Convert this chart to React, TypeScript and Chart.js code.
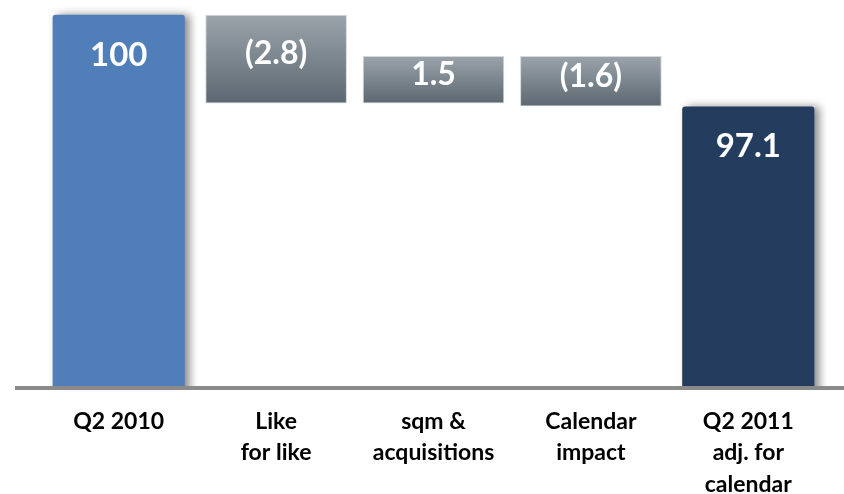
import React, { useEffect, useRef } from "react";
import { Chart, registerables } from "chart.js";

Chart.register(...registerables);

// Category labels (multi-line)
const categories: string[][] = [
  ["Q2 2010"],
  ["Like", "for like"],
  ["sqm &", "acquisitions"],
  ["Calendar", "impact"],
  ["Q2 2011", "adj. for", "calendar"],
];

// Opening and closing totals, and the steps between them
const openingValue = 100;
const stepValues = [-2.8, 1.5, -1.6];
const closingValue = 97.1;

// Visible value range of the hidden y axis
const axisMin = 88.2;
const axisMax = 100.47;

const FONT = "Lato, 'Open Sans', 'DejaVu Sans', sans-serif";
const BLUE = "#4f7eb9";
const NAVY = "#243c5e";

function buildData() {
  const totals: (number | null)[] = [openingValue, null, null, null, closingValue];
  const steps: ([number, number] | null)[] = [null];
  let running = openingValue;
  for (const s of stepValues) {
    const next = Math.round((running + s) * 10) / 10;
    steps.push([running, next]);
    running = next;
  }
  steps.push(null);
  return { totals, steps };
}

function formatStep(v: number) {
  return v < 0 ? `(${Math.abs(v).toFixed(1)})` : v.toFixed(1);
}

// Soft drop shadow behind the total bars
const shadowPlugin = {
  id: "totalShadow",
  beforeDatasetDraw(chart: any, args: any) {
    if (args.index !== 0) return;
    const ctx = chart.ctx;
    ctx.save();
    ctx.shadowColor = "rgba(0,0,0,0.45)";
    ctx.shadowBlur = 8;
    ctx.shadowOffsetX = 5;
    ctx.shadowOffsetY = 0;
  },
  afterDatasetDraw(chart: any, args: any) {
    if (args.index !== 0) return;
    chart.ctx.restore();
  },
};

// Grey base line under all bars
const baselinePlugin = {
  id: "baseline",
  afterDatasetsDraw(chart: any) {
    const ctx = chart.ctx;
    const y = chart.scales.y.getPixelForValue(axisMin);
    ctx.save();
    ctx.strokeStyle = "#8a8a8a";
    ctx.lineWidth = 4;
    ctx.beginPath();
    ctx.moveTo(15, y);
    ctx.lineTo(chart.width, y);
    ctx.stroke();
    ctx.restore();
  },
};

// White value labels inside the bars
const valueLabelPlugin = {
  id: "valueLabels",
  afterDatasetsDraw(chart: any) {
    const ctx = chart.ctx;
    ctx.save();
    ctx.fillStyle = "#ffffff";
    ctx.textAlign = "center";
    ctx.textBaseline = "middle";
    chart.data.datasets.forEach((ds: any, di: number) => {
      const meta = chart.getDatasetMeta(di);
      meta.data.forEach((bar: any, i: number) => {
        const raw = ds.data[i];
        if (raw === null || raw === undefined) return;
        const { x, y, base } = bar.getProps(["x", "y", "base"], true);
        if (di === 0) {
          ctx.font = `bold 33px ${FONT}`;
          ctx.fillText(String(raw), x, Math.min(y, base) + 40);
        } else {
          const top = Math.min(y, base);
          const h = Math.abs(base - y);
          ctx.font = `bold 32px ${FONT}`;
          const delta = Math.round((raw[1] - raw[0]) * 10) / 10;
          ctx.fillText(formatStep(delta), x, top + h / 2 - 5);
        }
      });
    });
    ctx.restore();
  },
};

function stepGradient(context: any) {
  const chart = context.chart;
  const raw = context.raw;
  if (!chart.chartArea || !raw) return "#7d8891";
  const yScale = chart.scales.y;
  const top = yScale.getPixelForValue(Math.max(raw[0], raw[1]));
  const bottom = yScale.getPixelForValue(Math.min(raw[0], raw[1]));
  const g = chart.ctx.createLinearGradient(0, top, 0, bottom);
  g.addColorStop(0, "#9ba4ab");
  g.addColorStop(1, "#5c6771");
  return g;
}

export default function App() {
  const canvasRef = useRef<HTMLCanvasElement | null>(null);

  useEffect(() => {
    if (!canvasRef.current) return;
    const { totals, steps } = buildData();
    const chart = new Chart(canvasRef.current, {
      type: "bar",
      data: {
        labels: categories as any,
        datasets: [
          {
            data: totals as any,
            backgroundColor: [BLUE, BLUE, BLUE, BLUE, NAVY],
            borderRadius: 3,
            borderSkipped: false,
            barPercentage: 0.84,
            categoryPercentage: 1,
            grouped: false,
          } as any,
          {
            data: steps as any,
            backgroundColor: stepGradient,
            borderColor: "#d3d8dc",
            borderWidth: 1,
            borderSkipped: false,
            barPercentage: 0.9,
            categoryPercentage: 1,
            grouped: false,
          } as any,
        ],
      },
      options: {
        responsive: false,
        animation: false,
        devicePixelRatio: 1,
        layout: { padding: { left: 40, right: 17, top: 0, bottom: 0 } },
        plugins: {
          legend: { display: false },
          tooltip: { enabled: false },
        },
        scales: {
          x: {
            grid: { display: false, drawTicks: false },
            border: { display: false },
            ticks: {
              color: "#000000",
              padding: 18,
              maxRotation: 0,
              autoSkip: false,
              font: { family: FONT, size: 23, weight: "bold", lineHeight: 1.36 },
            },
            afterFit: (scale: any) => {
              scale.height = 106;
            },
          },
          y: {
            display: false,
            min: axisMin,
            max: axisMax,
          },
        },
      },
      plugins: [shadowPlugin, baselinePlugin, valueLabelPlugin],
    });
    return () => chart.destroy();
  }, []);

  return (
    <div style={{ position: "fixed", left: 0, top: 0, width: 844, height: 494, background: "#ffffff" }}>
      <canvas ref={canvasRef} width={844} height={494} />
    </div>
  );
}
